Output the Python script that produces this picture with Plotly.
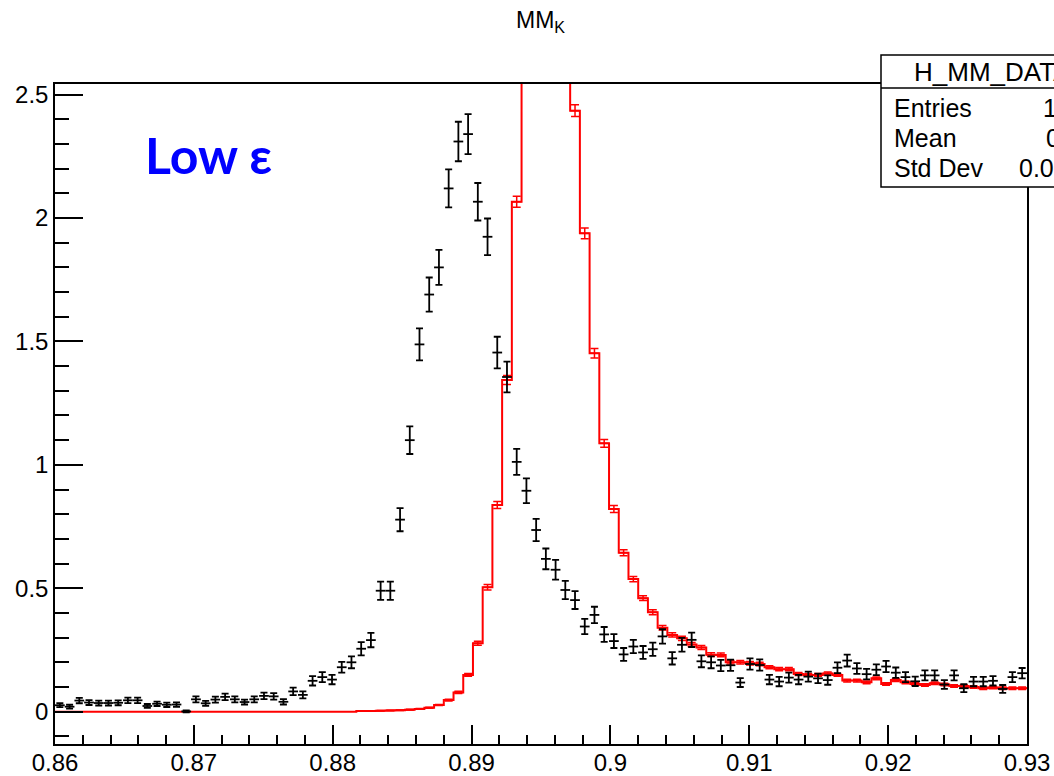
import plotly.graph_objects as go

# ---------------- data ----------------
n_bins = 100
x_low, x_high = 0.86, 0.93

data_counts = [
    0.026, 0.020, 0.045, 0.037, 0.035, 0.035, 0.036, 0.046, 0.046, 0.023,
    0.032, 0.028, 0.029, 0.001, 0.050, 0.034, 0.049, 0.060, 0.050, 0.039,
    0.050, 0.064, 0.062, 0.040, 0.082, 0.068, 0.125, 0.140, 0.130, 0.180,
    0.200, 0.255, 0.290, 0.490, 0.490, 0.778, 1.100, 1.488, 1.690, 1.800,
    2.120, 2.310, 2.340, 2.066, 1.924, 1.455, 1.356, 1.012, 0.895, 0.736,
    0.619, 0.575, 0.493, 0.452, 0.345, 0.392, 0.313, 0.286, 0.232, 0.264,
    0.240, 0.253, 0.305, 0.216, 0.271, 0.291, 0.204, 0.200, 0.187, 0.188,
    0.118, 0.193, 0.189, 0.130, 0.122, 0.138, 0.130, 0.142, 0.135, 0.128,
    0.178, 0.207, 0.175, 0.152, 0.170, 0.183, 0.158, 0.140, 0.123, 0.147,
    0.147, 0.110, 0.147, 0.095, 0.122, 0.122, 0.125, 0.092, 0.140, 0.156,
]
data_errors = [
    0.008, 0.008, 0.011, 0.010, 0.010, 0.010, 0.010, 0.011, 0.011, 0.008,
    0.009, 0.009, 0.009, 0.004, 0.012, 0.010, 0.012, 0.013, 0.012, 0.010,
    0.012, 0.013, 0.013, 0.011, 0.015, 0.014, 0.019, 0.020, 0.019, 0.022,
    0.024, 0.027, 0.029, 0.037, 0.037, 0.047, 0.056, 0.065, 0.069, 0.071,
    0.077, 0.080, 0.081, 0.076, 0.074, 0.064, 0.062, 0.053, 0.050, 0.045,
    0.042, 0.040, 0.037, 0.036, 0.031, 0.033, 0.030, 0.028, 0.026, 0.027,
    0.026, 0.027, 0.029, 0.025, 0.028, 0.029, 0.024, 0.024, 0.023, 0.023,
    0.018, 0.023, 0.023, 0.019, 0.019, 0.020, 0.019, 0.020, 0.019, 0.019,
    0.022, 0.024, 0.022, 0.021, 0.022, 0.023, 0.021, 0.020, 0.019, 0.020,
    0.020, 0.018, 0.020, 0.016, 0.019, 0.019, 0.019, 0.016, 0.020, 0.021,
]
mc_counts = [
    0, 0, 0, 0, 0, 0, 0, 0, 0, 0,
    0, 0, 0, 0, 0, 0, 0, 0, 0, 0,
    0, 0, 0, 0, 0, 0, 0, 0, 0, 0,
    0, 0.003, 0.003, 0.004, 0.005, 0.006, 0.008, 0.011, 0.016, 0.027,
    0.047, 0.078, 0.149, 0.277, 0.504, 0.837, 1.344, 2.066, 3.2, 4.6,
    5.3, 4.4, 3.3, 2.435, 1.938, 1.452, 1.087, 0.821, 0.644, 0.537,
    0.460, 0.403, 0.340, 0.311, 0.297, 0.272, 0.260, 0.231, 0.230, 0.200,
    0.200, 0.196, 0.193, 0.180, 0.172, 0.172, 0.153, 0.149, 0.149, 0.155,
    0.149, 0.126, 0.126, 0.119, 0.135, 0.112, 0.128, 0.119, 0.112, 0.108,
    0.115, 0.110, 0.104, 0.104, 0.100, 0.095, 0.098, 0.095, 0.095, 0.095,
]
mc_errors = [
    0, 0, 0, 0, 0, 0, 0, 0, 0, 0,
    0, 0, 0, 0, 0, 0, 0, 0, 0, 0,
    0, 0, 0, 0, 0, 0, 0, 0, 0, 0,
    0, 0.001, 0.001, 0.001, 0.001, 0.001, 0.0015, 0.0015, 0.002, 0.0025,
    0.0035, 0.0045, 0.006, 0.008, 0.011, 0.014, 0.018, 0.022, 0.028, 0.033,
    0.036, 0.032, 0.028, 0.024, 0.022, 0.019, 0.016, 0.014, 0.012, 0.011,
    0.010, 0.010, 0.009, 0.0085, 0.0085, 0.008, 0.008, 0.0075, 0.0075, 0.007,
    0.007, 0.007, 0.007, 0.0065, 0.0065, 0.0065, 0.006, 0.006, 0.006, 0.006,
    0.006, 0.0055, 0.0055, 0.0055, 0.0055, 0.005, 0.0055, 0.0055, 0.005, 0.005,
    0.005, 0.005, 0.005, 0.005, 0.005, 0.005, 0.005, 0.005, 0.005, 0.005,
]

x_tick_vals = [0.86, 0.87, 0.88, 0.89, 0.90, 0.91, 0.92, 0.93]
x_tick_text = ["0.86", "0.87", "0.88", "0.89", "0.9", "0.91", "0.92", "0.93"]
y_tick_vals = [0, 0.5, 1, 1.5, 2, 2.5]
y_tick_text = ["0", "0.5", "1", "1.5", "2", "2.5"]

stat_title = "H_MM_DATA"
stat_labels = ["Entries", "Mean", "Std Dev"]
stat_values = ["13892", "0.894", "0.01336"]

# ---------------- geometry helpers ----------------
W, H = 1054, 776
L, R, T, B = 55, 1027, 84, 744
def px_x(p):
    return (p - L) / (R - L)
def px_y(p):
    return (B - p) / (B - T)

bw = (x_high - x_low) / n_bins
centers = [x_low + (i + 0.5) * bw for i in range(n_bins)]
edges = [x_low + i * bw for i in range(n_bins + 1)]

RED = "#ff0000"
fig = go.Figure()

# MC histogram (step line)
fig.add_trace(go.Scatter(
    x=edges, y=mc_counts + [mc_counts[-1]], mode="lines",
    line=dict(color=RED, width=2, shape="hv"), hoverinfo="skip", showlegend=False))

# MC error bars on non-empty bins
idx = [i for i, v in enumerate(mc_counts) if v > 0]
fig.add_trace(go.Scatter(
    x=[centers[i] for i in idx], y=[mc_counts[i] for i in idx], mode="markers",
    marker=dict(size=1, color="rgba(0,0,0,0)"),
    error_y=dict(type="data", array=[mc_errors[i] for i in idx], color=RED, thickness=1.5, width=4),
    error_x=dict(type="data", array=[bw / 2] * len(idx), color=RED, thickness=1.5, width=0),
    showlegend=False))

# Data points
fig.add_trace(go.Scatter(
    x=centers, y=data_counts, mode="markers",
    marker=dict(size=1, color="rgba(0,0,0,0)"),
    error_y=dict(type="data", array=data_errors, color="black", thickness=1.8, width=3.5),
    error_x=dict(type="data", array=[bw / 2] * n_bins, color="black", thickness=1.8, width=0),
    showlegend=False))

axis_font = dict(family="Liberation Sans, Arial, sans-serif", size=24, color="black")
fig.update_xaxes(
    range=[x_low, x_high], tickmode="array", tickvals=x_tick_vals, ticktext=x_tick_text,
    ticks="inside", ticklen=19, tickwidth=1.5, tickcolor="black", ticklabelstandoff=-4,
    minor=dict(dtick=0.002, tick0=0.86, ticks="inside", ticklen=9, tickwidth=1.5,
               tickcolor="black", showgrid=False),
    showline=True, linecolor="black", linewidth=1.5, mirror=True, automargin=False,
    showgrid=False, zeroline=False, tickfont=axis_font)
fig.update_yaxes(
    range=[-0.131, 2.543], tickmode="array", tickvals=y_tick_vals, ticktext=y_tick_text,
    ticks="inside", ticklen=28, tickwidth=1.5, tickcolor="black",
    minor=dict(dtick=0.1, tick0=0, ticks="inside", ticklen=14, tickwidth=1.5,
               tickcolor="black", showgrid=False),
    showline=True, linecolor="black", linewidth=1.5, mirror=True, automargin=False,
    showgrid=False, zeroline=False, tickfont=axis_font)

shapes = [
    dict(type="rect", xref="paper", yref="paper", x0=px_x(881), x1=px_x(1120),
         y0=px_y(187), y1=px_y(55), line=dict(color="black", width=1.5),
         fillcolor="white", layer="above"),
    dict(type="line", xref="paper", yref="paper", x0=px_x(881), x1=px_x(1120),
         y0=px_y(88), y1=px_y(88), line=dict(color="black", width=1.5), layer="above"),
]

stat_font = dict(family="Liberation Sans, Arial, sans-serif", size=25, color="black")
annotations = [
    dict(text="MM<sub>K</sub>", x=px_x(540), y=px_y(22), xref="paper", yref="paper",
         showarrow=False, xanchor="center", yanchor="middle",
         font=dict(family="Liberation Sans, Arial, sans-serif", size=23, color="black")),
    dict(text="Low ε", x=px_x(208), y=px_y(155), xref="paper", yref="paper",
         showarrow=False, xanchor="center", yanchor="middle",
         font=dict(family="Lato, sans-serif", size=50, color="#0000ff", weight="bold")),
    dict(text=stat_title, x=px_x(912), y=px_y(72), xref="paper", yref="paper",
         showarrow=False, xanchor="left", yanchor="middle",
         font=dict(family="Liberation Sans, Arial, sans-serif", size=26, color="black")),
]
row_y = [108, 138, 168]
value_left_px = [1041, 1044, 1017]
for lab, val, ry, vx in zip(stat_labels, stat_values, row_y, value_left_px):
    annotations.append(dict(text=lab, x=px_x(892), y=px_y(ry), xref="paper", yref="paper",
                            showarrow=False, xanchor="left", yanchor="middle", font=stat_font))
    annotations.append(dict(text=val, x=px_x(vx), y=px_y(ry), xref="paper", yref="paper",
                            showarrow=False, xanchor="left", yanchor="middle", font=stat_font))

fig.update_layout(
    width=W, height=H, margin=dict(l=L, r=W - R, t=T, b=H - B, pad=0, autoexpand=False),
    paper_bgcolor="white", plot_bgcolor="white",
    shapes=shapes, annotations=annotations, showlegend=False)

fig.write_html(
    "out.html",
    config={"displayModeBar": False},
    post_script="document.body.style.margin='0px';document.body.style.overflow='hidden';")
